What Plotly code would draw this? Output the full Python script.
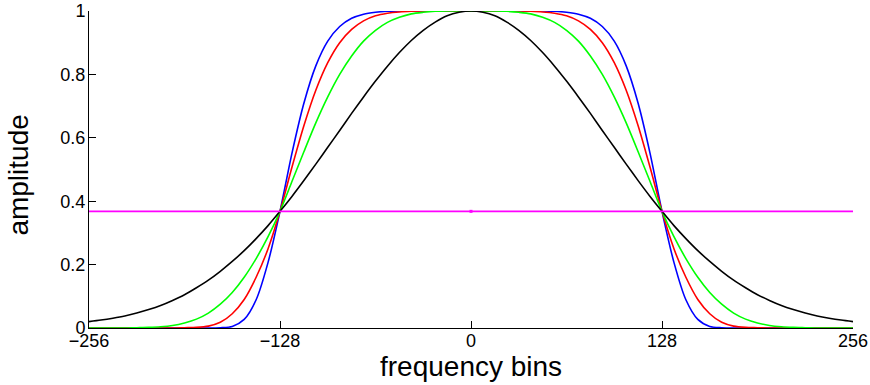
import plotly.graph_objects as go

# frequency bins (sample positions)
bins = list(range(-256, 257, 8))

black = [0.020, 0.025, 0.031, 0.038, 0.047, 0.058, 0.071, 0.087, 0.105, 0.127, 0.151, 0.179, 0.210, 0.244, 0.282, 0.323,
         0.368,
         0.415, 0.465, 0.517, 0.570, 0.623, 0.677, 0.729, 0.779, 0.826, 0.869, 0.907, 0.939, 0.965, 0.985, 0.996,
         1.000,
         0.996, 0.985, 0.965, 0.939, 0.907, 0.869, 0.826, 0.779, 0.729, 0.677, 0.623, 0.570, 0.517, 0.465, 0.415,
         0.368,
         0.323, 0.282, 0.244, 0.210, 0.179, 0.151, 0.127, 0.105, 0.087, 0.071, 0.058, 0.047, 0.038, 0.031, 0.025, 0.020]

green = [0.000, 0.000, 0.000, 0.000, 0.001, 0.002, 0.004, 0.008, 0.016, 0.028, 0.047, 0.075, 0.112, 0.160, 0.219, 0.288,
         0.368,
         0.462, 0.556, 0.647, 0.729, 0.800, 0.858, 0.905, 0.939, 0.964, 0.980, 0.991, 0.996, 0.999, 1.000, 1.000,
         1.000,
         1.000, 1.000, 0.999, 0.996, 0.991, 0.980, 0.964, 0.939, 0.905, 0.858, 0.800, 0.729, 0.647, 0.556, 0.462,
         0.368,
         0.288, 0.219, 0.160, 0.112, 0.075, 0.047, 0.028, 0.016, 0.008, 0.004, 0.002, 0.001, 0.000, 0.000, 0.000, 0.000]

red = [0.000, 0.000, 0.000, 0.000, 0.000, 0.000, 0.000, 0.000, 0.001, 0.002, 0.006, 0.018, 0.045, 0.090, 0.160, 0.250,
       0.368,
       0.507, 0.638, 0.750, 0.837, 0.900, 0.942, 0.969, 0.985, 0.993, 0.997, 0.999, 1.000, 1.000, 1.000, 1.000,
       1.000,
       1.000, 1.000, 1.000, 1.000, 0.999, 0.997, 0.993, 0.985, 0.969, 0.942, 0.900, 0.837, 0.750, 0.638, 0.507,
       0.368,
       0.250, 0.160, 0.090, 0.045, 0.018, 0.006, 0.002, 0.001, 0.000, 0.000, 0.000, 0.000, 0.000, 0.000, 0.000, 0.000]

blue = [0.000, 0.000, 0.000, 0.000, 0.000, 0.000, 0.000, 0.000, 0.000, 0.000, 0.000, 0.001, 0.005, 0.027, 0.089, 0.207,
        0.368,
        0.551, 0.709, 0.827, 0.905, 0.951, 0.977, 0.990, 0.996, 0.999, 1.000, 1.000, 1.000, 1.000, 1.000, 1.000,
        1.000,
        1.000, 1.000, 1.000, 1.000, 1.000, 1.000, 0.999, 0.996, 0.990, 0.977, 0.951, 0.905, 0.827, 0.709, 0.551,
        0.368,
        0.207, 0.089, 0.027, 0.005, 0.001, 0.000, 0.000, 0.000, 0.000, 0.000, 0.000, 0.000, 0.000, 0.000, 0.000, 0.000]

level_x = [-256, 0, 256]
level_y = [0.368, 0.368, 0.368]

x_ticks = [-256, -128, 0, 128, 256]
x_tick_text = ["\u2212256", "\u2212128", "0", "128", "256"]
y_ticks = [0, 0.2, 0.4, 0.6, 0.8, 1]
y_tick_text = ["0", "0.2", "0.4", "0.6", "0.8", "1"]

FONT = "Liberation Sans, Arial, Helvetica, sans-serif"

fig = go.Figure()
for ys, col in [(blue, "#0000FF"), (red, "#FF0000"), (green, "#00FF00"), (black, "#000000")]:
    fig.add_trace(go.Scatter(x=bins, y=ys, mode="lines",
                             line=dict(color=col, width=1.6, shape="spline", smoothing=0.8),
                             showlegend=False, hoverinfo="skip"))
fig.add_trace(go.Scatter(x=level_x, y=level_y, mode="lines",
                         line=dict(color="#FF00FF", width=1.6),
                         showlegend=False, hoverinfo="skip"))
fig.add_trace(go.Scatter(x=[level_x[1]], y=[level_y[1]], mode="markers",
                         marker=dict(color="#FF00FF", size=3, symbol="square"),
                         showlegend=False, hoverinfo="skip"))

fig.update_layout(
    width=870, height=385,
    margin=dict(l=89, r=17, t=11, b=57, autoexpand=False),
    paper_bgcolor="white", plot_bgcolor="white",
    font=dict(family=FONT, color="black", size=18),
    xaxis=dict(range=[-256, 256], tickmode="array", tickvals=x_ticks, ticktext=x_tick_text,
               showgrid=False, zeroline=False, showline=True, linecolor="black", linewidth=1,
               ticks="inside", ticklen=7, tickcolor="black", tickwidth=1, automargin=False,
               ticklabelstandoff=-4,
               tickfont=dict(size=18, family=FONT, color="black")),
    yaxis=dict(range=[0, 1], tickmode="array", tickvals=y_ticks, ticktext=y_tick_text,
               showgrid=False, zeroline=False, showline=True, linecolor="black", linewidth=1,
               ticks="inside", ticklen=7, tickcolor="black", tickwidth=1, automargin=False,
               ticklabelstandoff=-1,
               tickfont=dict(size=18, family=FONT, color="black")),
    annotations=[
        dict(text="frequency bins", xref="paper", yref="paper", x=0.5, y=-0.123,
             xanchor="center", yanchor="middle", showarrow=False,
             font=dict(size=28, family=FONT, color="black")),
        dict(text="amplitude", xref="paper", yref="paper", x=-0.092, y=0.483,
             xanchor="center", yanchor="middle", showarrow=False, textangle=-90,
             font=dict(size=28, family=FONT, color="black")),
    ],
)

fig.write_html("out.html")
